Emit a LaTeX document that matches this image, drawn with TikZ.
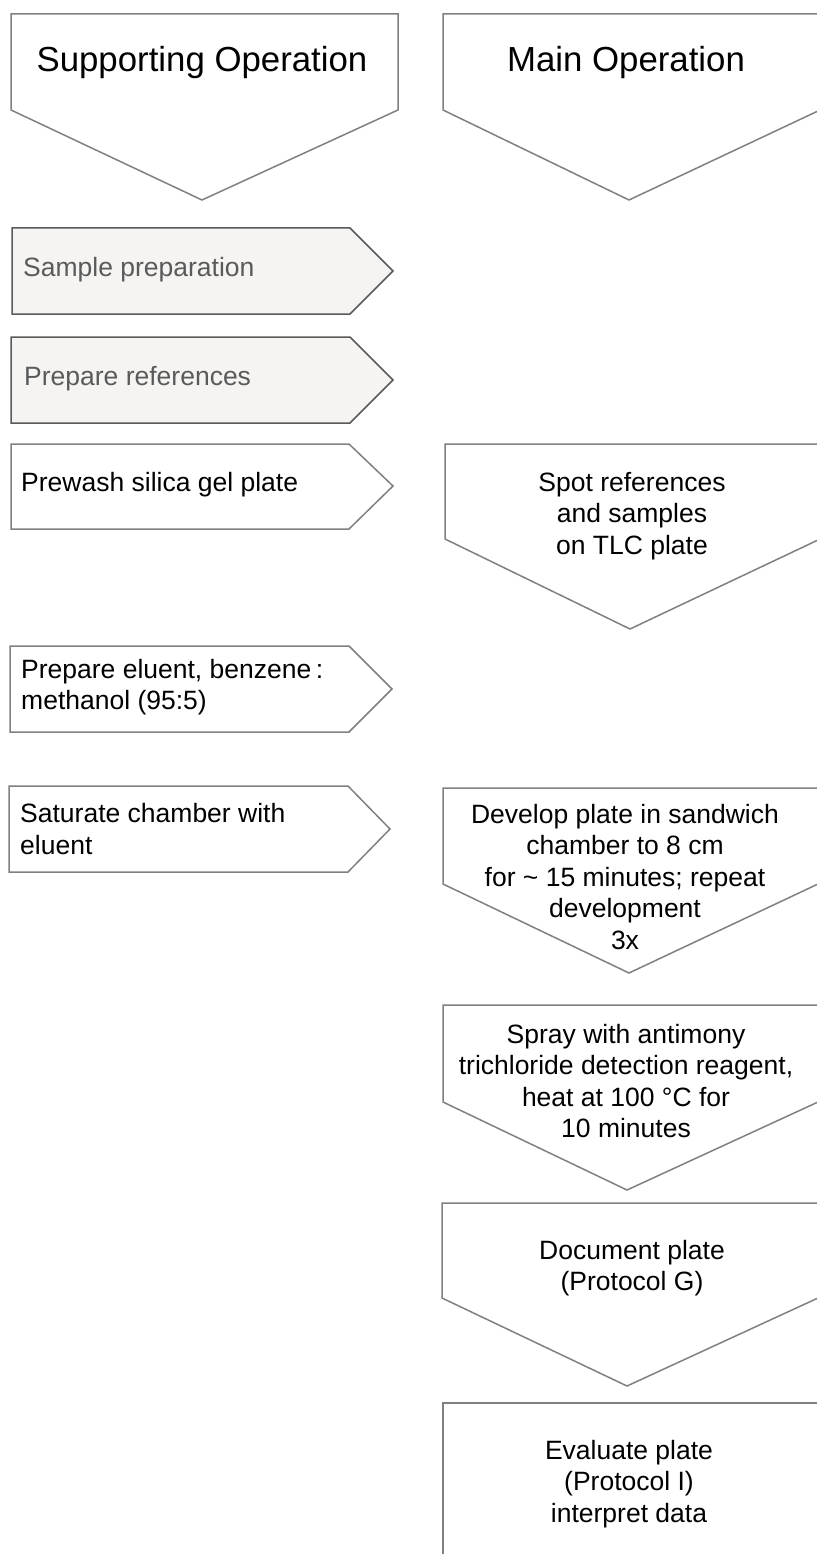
\documentclass[tikz,border=0pt]{standalone}
\usepackage{fontspec}
\setmainfont{Liberation Sans}
\definecolor{edgegray}{HTML}{808080}
\definecolor{scangray}{HTML}{5A5A5A}
\definecolor{scanfill}{HTML}{F5F4F2}

\begin{document}
\begin{tikzpicture}[x=1pt,y=-1pt,
    shapeline/.style={draw=edgegray, line width=1.5pt, fill=white},
    scanshape/.style={draw=scangray, line width=1.5pt, fill=scanfill},
    headtext/.style={font=\fontsize{34.8}{40}\selectfont, inner sep=0pt},
    steptext/.style={font=\fontsize{26.5}{31.5}\selectfont, align=center, inner sep=0pt},
    lefttext/.style={font=\fontsize{26.5}{31.5}\selectfont, align=left, anchor=west, inner sep=0pt},
    scantext/.style={text=scangray}]

\useasboundingbox (0,0) rectangle (816,1554);

% Column heads
\draw[shapeline] (11,14) -- (398,14) -- (398,110) -- (202,200) -- (11,110) -- cycle;
\node[headtext] (suphead) at (202,63) {Supporting Operation};

\draw[shapeline] (443,14) -- (818,14) -- (818,111) -- (629,200) -- (443,110) -- cycle;
\node[headtext] (mainhead) at (626,63) {Main Operation};

% Supporting operations (pointing right)
\draw[scanshape] (12,228) -- (350,228) -- (393,271) -- (350,314) -- (12,314) -- cycle;
\node[lefttext, scantext] (sample) at (23,270) {Sample preparation};

\draw[scanshape] (11,337) -- (350,337) -- (393,380) -- (350,423) -- (11,423) -- cycle;
\node[lefttext, scantext] (refs) at (24,379) {Prepare references};

\draw[shapeline] (11,444) -- (349,444) -- (393,486) -- (349,529) -- (11,529) -- cycle;
\node[lefttext] (prewash) at (21,485) {Prewash silica gel plate};

\draw[shapeline] (10,646) -- (349,646) -- (392,689) -- (349,732) -- (10,732) -- cycle;
\node[lefttext] (eluent) at (21,687) {Prepare eluent, benzene\,:\\methanol (95:5)};

\draw[shapeline] (9,786) -- (348,786) -- (390,829) -- (348,872) -- (9,872) -- cycle;
\node[lefttext] (saturate) at (20,829) {Saturate chamber with\\eluent};

% Main operations (pointing down)
\draw[shapeline] (445,444) -- (818,444) -- (818,540) -- (630,629) -- (445,539) -- cycle;
\node[steptext] (spot) at (632,516) {Spot references\\ and samples\\ on TLC plate};

\draw[shapeline] (443,788) -- (818,788) -- (818,884) -- (629,973) -- (443,884) -- cycle;
\node[steptext] (develop) at (625,877) {Develop plate in sandwich\\chamber to 8 cm\\for \textasciitilde\ 15 minutes; repeat\\development\\3x};

\draw[shapeline] (443,1005) -- (818,1005) -- (818,1102) -- (627,1190) -- (443,1102) -- cycle;
\node[steptext] (spray) at (626,1081) {Spray with antimony\\trichloride detection reagent,\\heat at 100 °C for\\10 minutes};

\draw[shapeline] (442,1203) -- (818,1203) -- (818,1298) -- (627,1386) -- (442,1298) -- cycle;
\node[steptext] (document) at (632,1268) {Document plate\\(Protocol G)};

\draw[shapeline] (443,1560) -- (443,1403) -- (818,1403) -- (818,1560);
\node[steptext] (evaluate) at (629,1484) {Evaluate plate\\(Protocol I)\\interpret data};

\end{tikzpicture}
\end{document}
